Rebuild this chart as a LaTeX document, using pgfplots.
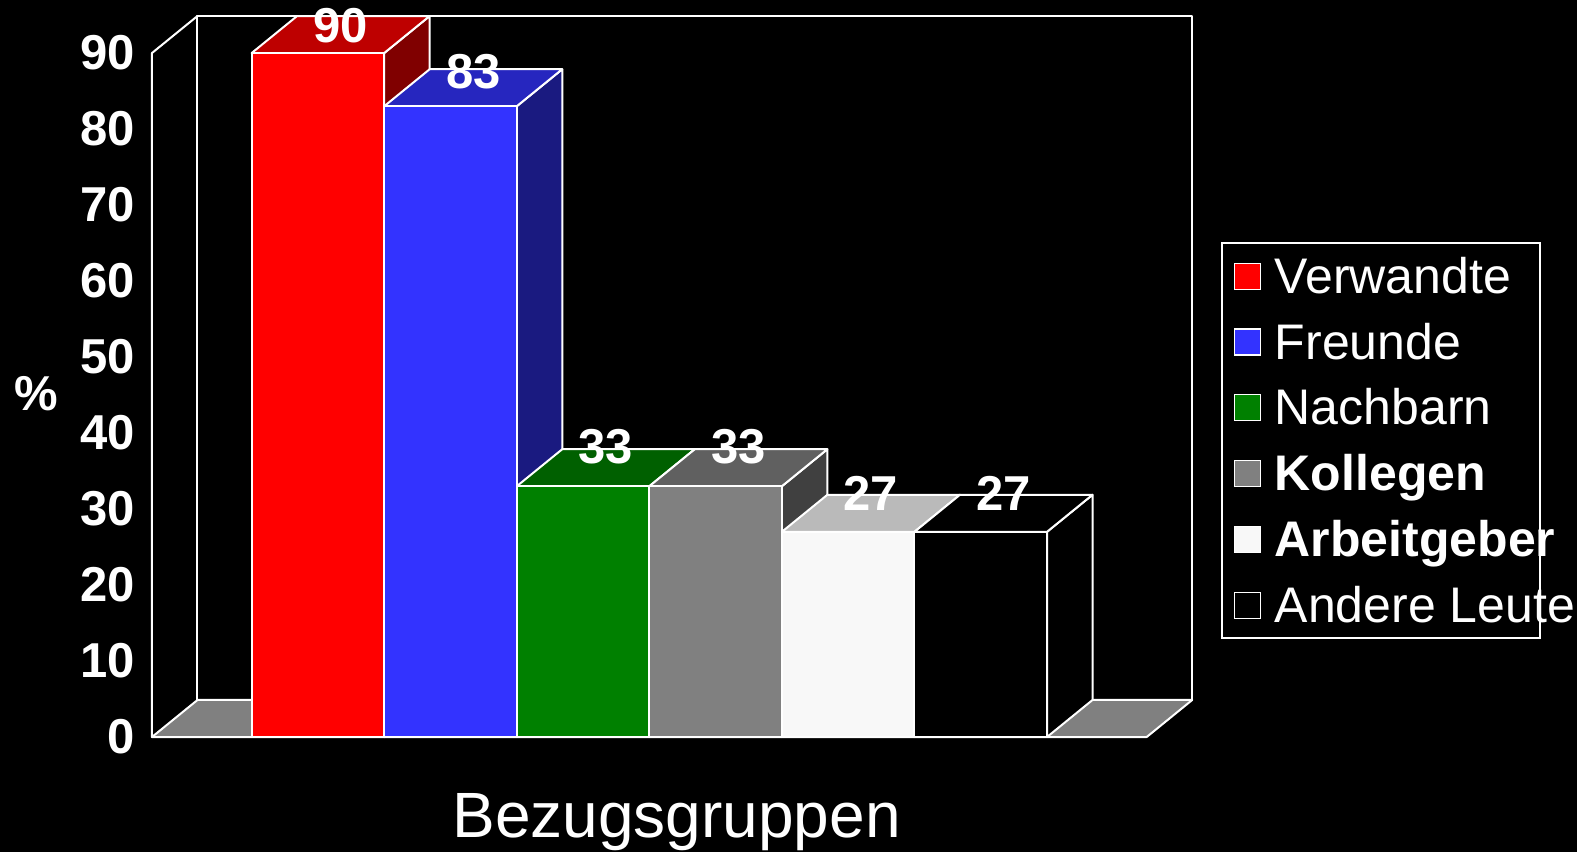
\documentclass[border=0pt]{standalone}
\usepackage{pgfplots}
\pgfplotsset{compat=1.18}
\usepackage{fontspec}
\setmainfont{Liberation Sans}
\definecolor{cRed}{RGB}{255,0,0}
\definecolor{cRedT}{RGB}{190,0,0}
\definecolor{cRedS}{RGB}{128,0,0}
\definecolor{cBlue}{RGB}{51,51,255}
\definecolor{cBlueT}{RGB}{38,38,191}
\definecolor{cBlueS}{RGB}{26,26,128}
\definecolor{cGreen}{RGB}{0,128,0}
\definecolor{cGreenT}{RGB}{0,96,0}
\definecolor{cGreenS}{RGB}{0,64,0}
\definecolor{cGray}{RGB}{128,128,128}
\definecolor{cGrayT}{RGB}{96,96,96}
\definecolor{cGrayS}{RGB}{64,64,64}
\definecolor{cLight}{RGB}{248,248,248}
\definecolor{cLightT}{RGB}{186,186,186}
\definecolor{cLightS}{RGB}{124,124,124}
\definecolor{cFloor}{RGB}{128,128,128}
\newcommand{\legtext}[1]{\makebox[126.5pt][l]{#1}}
\tikzset{face/.style={draw=white, line width=1pt, line join=round, line cap=round}}
\pgfplotsset{vlab/.style={nodes near coords, nodes near coords style={font=\bfseries\fontsize{24.5}{24.5}\selectfont, text=white, anchor=center, inner sep=0pt, xshift=11.4pt, yshift=#1}}}
\begin{document}
\begin{tikzpicture}
\path[use as bounding box, fill=black] (-76pt,-57.5pt) rectangle (712.5pt,368.5pt);
\begin{axis}[
  at={(0pt,0pt)}, anchor=south west,
  scale only axis, width=497.35pt, height=342pt,
  xmin=-0.252, xmax=7.252, ymin=0, ymax=90,
  clip=false,
  axis line style={draw=none},
  xtick=\empty, ytick={0,10,...,90},
  major tick length=0pt,
  /pgf/number format/assume math mode=true,
  yticklabel style={font=\bfseries\fontsize{24.5}{24.5}\selectfont, text=white, inner sep=0pt, anchor=east, xshift=-8.5pt},
  ylabel={\%},
  ylabel style={at={(axis description cs:-0.1166,0.5015)}, anchor=center, rotate=-90, font=\bfseries\fontsize{24.5}{24.5}\selectfont, text=white},
  xlabel={Bezugsgruppen},
  xlabel style={at={(axis description cs:0.5273,-0.1475)}, anchor=base, font=\fontsize{32}{32}\selectfont, text=white, inner sep=0pt},
  legend cell align=left,
  legend image code/.code={\draw[#1, draw=white, line width=0.6pt] (0pt,-6.5pt) rectangle (13pt,6.5pt); \path (19.85pt,0pt);},
  legend style={at={(axis description cs:1.0744,0.7230)}, anchor=north west, draw=white, fill=black, text=white, line width=0.9pt,
    inner xsep=6pt, inner ysep=0pt, row sep=0pt, /tikz/column sep=0pt,
    font=\fontsize{25}{25}\selectfont,
    nodes={inner sep=0pt, text height=25.0pt, text depth=7.9pt}},
]
% floor, back wall, front-left edge
\addplot[face, fill=cFloor, forget plot] coordinates {(-0.252,0) (7.252,0) (7.595,4.87) (0.091,4.87) (-0.252,0)};
\addplot[face, forget plot] coordinates {(0.091,4.87) (0.091,94.87) (7.595,94.87) (7.595,4.87)};
\addplot[face, forget plot] coordinates {(-0.252,0) (-0.252,90) (0.091,94.87)};
% side faces
\addplot[face, fill=cRedS, forget plot] coordinates {(1.5,0) (1.5,90) (1.843,94.87) (1.843,4.87) (1.5,0)};
\addplot[face, fill=cBlueS, forget plot] coordinates {(2.5,0) (2.5,83) (2.843,87.87) (2.843,4.87) (2.5,0)};
\addplot[face, fill=cGreenS, forget plot] coordinates {(3.5,0) (3.5,33) (3.843,37.87) (3.843,4.87) (3.5,0)};
\addplot[face, fill=cGrayS, forget plot] coordinates {(4.5,0) (4.5,33) (4.843,37.87) (4.843,4.87) (4.5,0)};
\addplot[face, fill=cLightS, forget plot] coordinates {(5.5,0) (5.5,27) (5.843,31.87) (5.843,4.87) (5.5,0)};
\addplot[face, fill=black, forget plot] coordinates {(6.5,0) (6.5,27) (6.843,31.87) (6.843,4.87) (6.5,0)};
% top faces
\addplot[face, fill=cRedT, forget plot] coordinates {(0.5,90) (1.5,90) (1.843,94.87) (0.843,94.87) (0.5,90)};
\addplot[face, fill=cBlueT, forget plot] coordinates {(1.5,83) (2.5,83) (2.843,87.87) (1.843,87.87) (1.5,83)};
\addplot[face, fill=cGreenT, forget plot] coordinates {(2.5,33) (3.5,33) (3.843,37.87) (2.843,37.87) (2.5,33)};
\addplot[face, fill=cGrayT, forget plot] coordinates {(3.5,33) (4.5,33) (4.843,37.87) (3.843,37.87) (3.5,33)};
\addplot[face, fill=cLightT, forget plot] coordinates {(4.5,27) (5.5,27) (5.843,31.87) (4.843,31.87) (4.5,27)};
\addplot[face, fill=black, forget plot] coordinates {(5.5,27) (6.5,27) (6.843,31.87) (5.843,31.87) (5.5,27)};
% front faces with values
\addplot[ybar, bar width=1, bar shift=0pt, face, fill=cRed, forget plot, vlab=13.5pt] coordinates {(1,90)};
\addplot[ybar, bar width=1, bar shift=0pt, face, fill=cBlue, forget plot, vlab=17.5pt] coordinates {(2,83)};
\addplot[ybar, bar width=1, bar shift=0pt, face, fill=cGreen, forget plot, vlab=20pt] coordinates {(3,33)};
\addplot[ybar, bar width=1, bar shift=0pt, face, fill=cGray, forget plot, vlab=20pt] coordinates {(4,33)};
\addplot[ybar, bar width=1, bar shift=0pt, face, fill=cLight, forget plot, vlab=19pt] coordinates {(5,27)};
\addplot[ybar, bar width=1, bar shift=0pt, face, fill=black, forget plot, vlab=19pt] coordinates {(6,27)};
% legend
\addlegendimage{fill=cRed}\addlegendentry{\legtext{Verwandte}}
\addlegendimage{fill=cBlue}\addlegendentry{\legtext{Freunde}}
\addlegendimage{fill=cGreen}\addlegendentry{\legtext{Nachbarn}}
\addlegendimage{fill=cGray}\addlegendentry{\legtext{\bfseries Kollegen}}
\addlegendimage{fill=cLight}\addlegendentry{\legtext{\bfseries Arbeitgeber}}
\addlegendimage{fill=black}\addlegendentry{\legtext{Andere Leute}}
\end{axis}
\end{tikzpicture}
\end{document}
